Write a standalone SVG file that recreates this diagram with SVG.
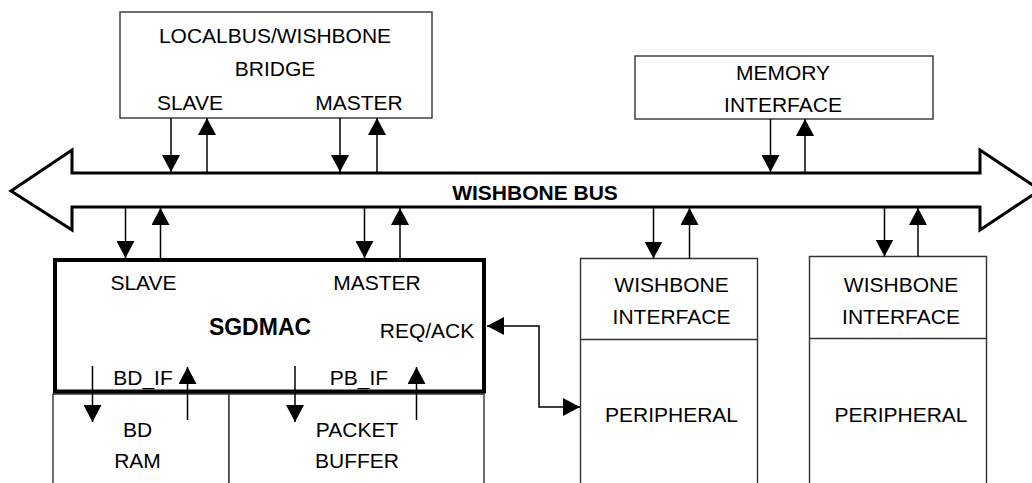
<svg xmlns="http://www.w3.org/2000/svg" width="1032" height="483" viewBox="0 0 1032 483">
<style>
text{font-family:"Liberation Sans",Arial,sans-serif;font-size:21px;fill:#000;text-anchor:middle}
.b{font-weight:bold}
.box{fill:#fff;stroke:#333;stroke-width:1.4}
.ln{fill:none;stroke:#000;stroke-width:1.5}
</style>
<defs>
<marker id="ah" viewBox="0 0 17 18" markerWidth="17" markerHeight="18" refX="17" refY="9" orient="auto" markerUnits="userSpaceOnUse">
<path d="M0,0 L17,9 L0,18 Z" fill="#000"/>
</marker>
<marker id="ahs" viewBox="0 0 17 18" markerWidth="17" markerHeight="18" refX="0" refY="9" orient="auto" markerUnits="userSpaceOnUse">
<path d="M17,0 L0,9 L17,18 Z" fill="#000"/>
</marker>
</defs>
<rect width="1032" height="483" fill="#fff"/>

<g id="bus">
<polygon points="72,173 72,150 11,191 72,230 72,207 980,207 980,230 1040,190 980,150 980,173" fill="#fff" stroke="#000" stroke-width="3" stroke-linejoin="miter"/>
<text class="b" x="535" y="200">WISHBONE BUS</text>
</g>

<g id="bridge">
<rect class="box" x="120" y="12" width="312" height="106"/>
<text x="275" y="43">LOCALBUS/WISHBONE</text>
<text x="275" y="76">BRIDGE</text>
<text x="190" y="110">SLAVE</text>
<text x="359" y="110">MASTER</text>
</g>

<g id="memory">
<rect class="box" x="635" y="56" width="298" height="63"/>
<text x="783" y="80">MEMORY</text>
<text x="783" y="112">INTERFACE</text>
</g>

<g id="bdram">
<path class="box" d="M53,490 L53,394 L229,394 L229,490"/>
<text x="137.5" y="437">BD</text>
<text x="137.5" y="468">RAM</text>
</g>

<g id="packetbuffer">
<path class="box" d="M229,490 L229,394 L484,394 L484,490"/>
<text x="357" y="437">PACKET</text>
<text x="357" y="468">BUFFER</text>
</g>

<g id="sgdmac">
<rect x="55" y="260" width="429" height="131.5" fill="#fff" stroke="#000" stroke-width="4"/>
<text x="143.5" y="290">SLAVE</text>
<text x="377" y="290">MASTER</text>
<text class="b" x="260" y="335" style="font-size:23px">SGDMAC</text>
<text x="427" y="338">REQ/ACK</text>
<text x="143" y="385">BD_IF</text>
<text x="359" y="385">PB_IF</text>
</g>

<g id="peripheral1">
<path class="box" d="M580.5,490 L580.5,258.5 L757.5,258.5 L757.5,490 M580.5,339.5 L757.5,339.5"/>
<text x="671.5" y="292">WISHBONE</text>
<text x="671.5" y="323.5">INTERFACE</text>
<text x="671.5" y="422">PERIPHERAL</text>
</g>

<g id="peripheral2">
<path class="box" d="M809.5,490 L809.5,256.5 L986.5,256.5 L986.5,490 M809.5,338.5 L986.5,338.5"/>
<text x="901" y="292">WISHBONE</text>
<text x="901" y="323.5">INTERFACE</text>
<text x="901" y="422">PERIPHERAL</text>
</g>

<g id="connectors">
<line class="ln" x1="171" y1="118" x2="171" y2="172" marker-end="url(#ah)"/>
<line class="ln" x1="207" y1="172" x2="207" y2="118" marker-end="url(#ah)"/>
<line class="ln" x1="340" y1="118" x2="340" y2="172" marker-end="url(#ah)"/>
<line class="ln" x1="377" y1="172" x2="377" y2="118" marker-end="url(#ah)"/>
<line class="ln" x1="770.5" y1="119" x2="770.5" y2="172" marker-end="url(#ah)"/>
<line class="ln" x1="805" y1="172" x2="805" y2="119" marker-end="url(#ah)"/>
<line class="ln" x1="125.5" y1="208" x2="125.5" y2="258" marker-end="url(#ah)"/>
<line class="ln" x1="160.5" y1="258" x2="160.5" y2="208" marker-end="url(#ah)"/>
<line class="ln" x1="364.5" y1="208" x2="364.5" y2="258" marker-end="url(#ah)"/>
<line class="ln" x1="400" y1="258" x2="400" y2="208" marker-end="url(#ah)"/>
<line class="ln" x1="653.5" y1="208" x2="653.5" y2="258.5" marker-end="url(#ah)"/>
<line class="ln" x1="689.5" y1="258.5" x2="689.5" y2="208" marker-end="url(#ah)"/>
<line class="ln" x1="884.5" y1="208" x2="884.5" y2="256.5" marker-end="url(#ah)"/>
<line class="ln" x1="918" y1="256.5" x2="918" y2="208" marker-end="url(#ah)"/>
<line class="ln" x1="92.5" y1="366" x2="92.5" y2="422" marker-end="url(#ah)"/>
<line class="ln" x1="187.5" y1="420" x2="187.5" y2="367" marker-end="url(#ah)"/>
<line class="ln" x1="295" y1="366" x2="295" y2="422" marker-end="url(#ah)"/>
<line class="ln" x1="416.5" y1="420" x2="416.5" y2="367" marker-end="url(#ah)"/>
<path class="ln" d="M487,326 L539,326 L539,407 L580,407" marker-start="url(#ahs)" marker-end="url(#ah)"/>
</g>
</svg>
